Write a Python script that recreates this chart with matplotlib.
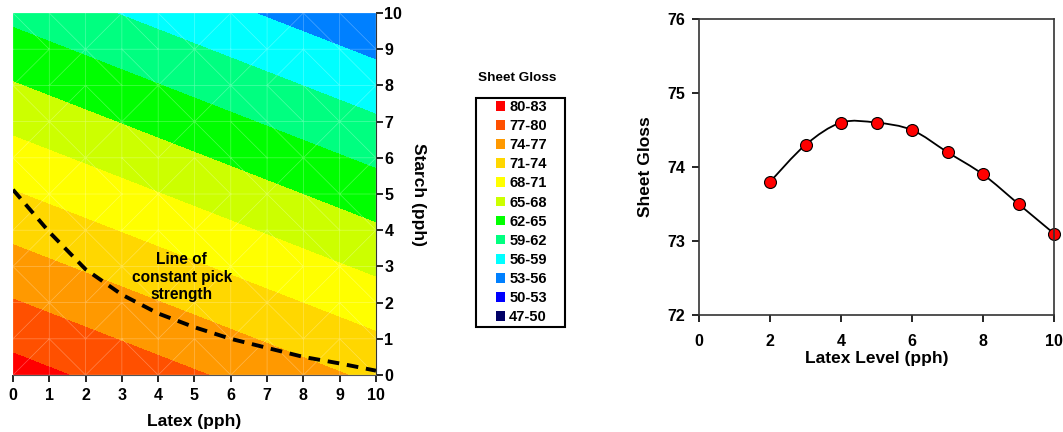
import numpy as np
import matplotlib.pyplot as plt
import matplotlib.tri as mtri
from matplotlib.patches import Patch, PathPatch, Rectangle
from matplotlib.path import Path

plt.rcParams['font.family'] = ['Liberation Sans', 'DejaVu Sans']
plt.rcParams['font.weight'] = 'bold'

# contour data: gloss read at latex/starch corners and mid points
latex_grid = [0, 5, 10]
starch_grid = [0, 5, 10]
gloss_grid = [[81.2, 77.3, 73.4],
              [71.2, 67.3, 63.4],
              [61.2, 57.3, 53.4]]

levels = [47, 50, 53, 56, 59, 62, 65, 68, 71, 74, 77, 80, 83]
band_colors = ['#000066', '#0000FF', '#0080FF', '#00FFFF', '#00FF80', '#00FF00',
               '#CCFF00', '#FFFF00', '#FFD700', '#FF9900', '#FF5000', '#FF0000']
band_labels = ['47-50', '50-53', '53-56', '56-59', '59-62', '62-65',
               '65-68', '68-71', '71-74', '74-77', '77-80', '80-83']

# line of constant pick strength
pick_latex = [0, 1, 2, 3, 4, 5, 6, 7, 8, 9, 10]
pick_starch = [5.12, 3.95, 2.92, 2.22, 1.7, 1.32, 1.0, 0.75, 0.5, 0.32, 0.12]

# sheet gloss vs latex level
latex_level = [2, 3, 4, 5, 6, 7, 8, 9, 10]
sheet_gloss = [73.8, 74.3, 74.6, 74.6, 74.5, 74.2, 73.9, 73.5, 73.1]


def smooth_path(x, y):
    n = len(x)
    verts = [(x[0], y[0])]
    codes = [Path.MOVETO]
    for i in range(n - 1):
        a = max(i - 1, 0)
        b = min(i + 2, n - 1)
        c1 = (x[i] + (x[i + 1] - x[a]) / 6, y[i] + (y[i + 1] - y[a]) / 6)
        c2 = (x[i + 1] - (x[b] - x[i]) / 6, y[i + 1] - (y[b] - y[i]) / 6)
        verts += [c1, c2, (x[i + 1], y[i + 1])]
        codes += [Path.CURVE4] * 3
    return Path(verts, codes)


fig = plt.figure(figsize=(10.63, 4.32), dpi=100)

# ---- left: contour map
ax = fig.add_axes([0.0122, 0.1319, 0.3415, 0.838])
ax.contourf(latex_grid, starch_grid, gloss_grid, levels=levels, colors=band_colors)
gx, gy = np.meshgrid(np.arange(11), np.arange(11))
tri = mtri.Triangulation(gx.ravel(), gy.ravel())
ax.triplot(tri, color='white', lw=0.5, alpha=0.3)
ax.plot(pick_latex, pick_starch, color='black', lw=2.8, ls=(0, (3, 2)))
ax.text(4.65, 2.7, 'Line of\nconstant pick\nstrength', ha='center', va='center',
        fontsize=11.2, fontweight='bold', linespacing=1.2)
ax.set_xlim(0, 10)
ax.set_ylim(0, 10)
ax.set_xticks(range(11))
ax.set_yticks(range(11))
ax.yaxis.tick_right()
ax.yaxis.set_label_position('right')
ax.spines['left'].set_visible(False)
ax.spines['top'].set_visible(False)
ax.spines['bottom'].set_color('#555555')
ax.spines['right'].set_color('#333333')
ax.tick_params(axis='x', labelsize=11.5, length=5, width=1.2, pad=4)
ax.tick_params(axis='y', labelsize=11.5, length=5, width=1.2, pad=1)
ax.set_xlabel('Latex (pph)', fontsize=12.5, fontweight='bold', labelpad=8)
ax.set_ylabel('Starch (pph)', fontsize=12.5, fontweight='bold', rotation=-90, labelpad=17)

# ---- legend
fig.text(0.4864, 0.8194, 'Sheet Gloss', ha='center', va='center', fontsize=9.7, fontweight='bold')
fig.add_artist(Rectangle((476 / 1063, 1 - 327 / 432), 89 / 1063, 229 / 432,
                         transform=fig.transFigure, fill=False, ec='black', lw=1.5))
handles = [Patch(facecolor=c, edgecolor='none') for c in band_colors[::-1]]
leg = fig.legend(handles, band_labels[::-1], loc='upper left', bbox_to_anchor=(0.4666, 0.7685),
                 frameon=False, fontsize=10.5,
                 handlelength=0.65, handleheight=0.65, handletextpad=0.25,
                 labelspacing=0.35, borderpad=0, borderaxespad=0)
for t in leg.get_texts():
    t.set_fontweight('bold')

# ---- right: gloss curve
ax2 = fig.add_axes([0.6576, 0.2708, 0.334, 0.685])
ax2.add_patch(PathPatch(smooth_path(latex_level, sheet_gloss), fill=False, color='black', lw=1.3))
ax2.plot(latex_level, sheet_gloss, 'o', ms=8.6, mfc='#FF0000', mec='black', mew=0.8, clip_on=False)
ax2.set_xlim(0, 10)
ax2.set_ylim(72, 76)
ax2.set_xticks([0, 2, 4, 6, 8, 10])
ax2.set_yticks([72, 73, 74, 75, 76])
for s in ax2.spines.values():
    s.set_color('#333333')
    s.set_linewidth(1.2)
ax2.tick_params(axis='x', labelsize=11.5, length=5, width=1.2, pad=9)
ax2.tick_params(axis='y', labelsize=11.5, length=5, width=1.2, pad=5)
ax2.set_xlabel('Latex Level (pph)', fontsize=12.5, fontweight='bold', labelpad=1)
ax2.set_ylabel('Sheet Gloss', fontsize=12.5, fontweight='bold', labelpad=10)

fig.savefig('out.png', dpi=100)
